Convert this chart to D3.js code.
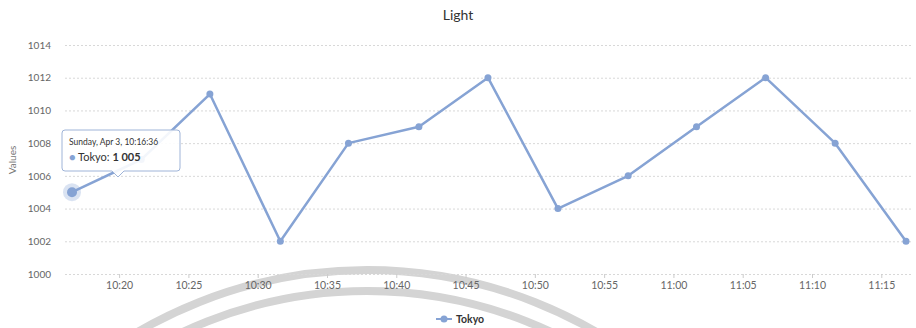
<!DOCTYPE html>
<html>
<head>
<meta charset="utf-8">
<script src="https://cdn.jsdelivr.net/npm/d3@7"></script>
<style>
  body { margin: 0; background: #fff; }
  svg { display: block; font-family: Lato, "Open Sans", sans-serif; }
</style>
</head>
<body>
<div id="root"></div>
<script>
// series: Tokyo light readings, Sunday Apr 3
const times = ["10:16:36", "10:21:36", "10:26:33", "10:31:38", "10:36:33", "10:41:38", "10:46:37",
               "10:51:40", "10:56:44", "11:01:40", "11:06:39", "11:11:40", "11:16:47"];
const values = [1005, 1007, 1011, 1002, 1008, 1009, 1012, 1004, 1006, 1009, 1012, 1008, 1002];
const yTicks = [1000, 1002, 1004, 1006, 1008, 1010, 1012, 1014];
const seriesName = "Tokyo";
const chartTitle = "Light";
const hovered = 0;

const width = 916;
const height = 328;
const color = "#86a3d4";

const parse = d3.timeParse("%Y-%m-%d %H:%M:%S");
const data = times.map((t, i) => ({ date: parse("2016-04-03 " + t), value: values[i] }));

const x = d3.scaleTime()
    .domain(d3.extent(data, d => d.date))
    .range([72, 906]);

const y = d3.scaleLinear()
    .domain([1000, 1014])
    .range([274, 45]);

const svg = d3.select("#root")
  .append("svg")
    .attr("width", width)
    .attr("height", height);

// faint background arcs
svg.append("g")
    .attr("fill", "none")
    .attr("stroke", "#d4d4d4")
    .attr("stroke-width", 8)
  .selectAll("circle")
  .data([455, 434])
  .join("circle")
    .attr("cx", 367)
    .attr("cy", 725)
    .attr("r", d => d);

// title
svg.append("text")
    .attr("x", 458)
    .attr("y", 20)
    .attr("text-anchor", "middle")
    .attr("fill", "#333")
    .style("font-size", "14px")
    .text(chartTitle);

// y grid + labels
const yAxis = svg.append("g")
    .attr("transform", "translate(65,0)")
    .call(d3.axisLeft(y).tickValues(yTicks).tickSize(-847).tickPadding(14).tickFormat(d3.format("d")));
yAxis.select(".domain").remove();
yAxis.selectAll(".tick line")
    .attr("stroke", "#d8d8d8")
    .attr("stroke-dasharray", "2,2");
yAxis.selectAll(".tick text")
    .attr("fill", "#666")
    .style("font-size", "10px")
    .style("font-family", "Lato, sans-serif");

svg.append("text")
    .attr("transform", "translate(16,160) rotate(-90)")
    .attr("text-anchor", "middle")
    .attr("fill", "#777")
    .style("font-size", "10px")
    .text("Values");

// x axis
const xAxis = svg.append("g")
    .attr("transform", "translate(0,274)")
    .call(d3.axisBottom(x).ticks(d3.timeMinute.every(5)).tickSize(4).tickPadding(4).tickFormat(d3.timeFormat("%H:%M")));
xAxis.select(".domain").remove();
xAxis.selectAll(".tick line").attr("stroke", "#ccc");
xAxis.selectAll(".tick text")
    .attr("fill", "#666")
    .style("font-size", "10.5px")
    .style("font-family", "Lato, sans-serif");

// series line
const line = d3.line()
    .x(d => x(d.date))
    .y(d => y(d.value));

svg.append("path")
    .datum(data)
    .attr("fill", "none")
    .attr("stroke", color)
    .attr("stroke-width", 2.5)
    .attr("stroke-linejoin", "round")
    .attr("d", line);

svg.append("g")
  .selectAll("circle")
  .data(data)
  .join("circle")
    .attr("cx", d => x(d.date))
    .attr("cy", d => y(d.value))
    .attr("r", 3.5)
    .attr("fill", color);

// hover halo
const hp = data[hovered];
svg.append("circle")
    .attr("cx", x(hp.date))
    .attr("cy", y(hp.value))
    .attr("r", 9)
    .attr("fill", color)
    .attr("fill-opacity", 0.3);
svg.append("circle")
    .attr("cx", x(hp.date))
    .attr("cy", y(hp.value))
    .attr("r", 5)
    .attr("fill", color);

// tooltip
const tip = svg.append("g").attr("transform", "translate(62,130)");
tip.append("path")
    .attr("d", "M3,0 H115 Q118,0 118,3 V38 Q118,41 115,41 H62 L56,47 L50,41 H3 Q0,41 0,38 V3 Q0,0 3,0 Z")
    .attr("fill", "#fff")
    .attr("fill-opacity", 0.9)
    .attr("stroke", "#9fb4d8")
    .attr("stroke-width", 1);
tip.append("text")
    .attr("x", 7)
    .attr("y", 15)
    .attr("fill", "#333")
    .style("font-size", "8.5px")
    .text(d3.timeFormat("%A, %b %-d, %H:%M:%S")(hp.date));
const t2 = tip.append("text")
    .attr("x", 7)
    .attr("y", 31)
    .attr("fill", "#333")
    .style("font-size", "11px");
t2.append("tspan").attr("fill", color).text("● ");
t2.append("tspan").text(seriesName + ": ");
t2.append("tspan").attr("font-weight", "bold").text(d3.format(",")(hp.value).replace(",", " "));

// legend
const legend = svg.append("g").attr("transform", "translate(436,319)");
legend.append("line")
    .attr("x1", 0).attr("x2", 16)
    .attr("stroke", color)
    .attr("stroke-width", 2);
legend.append("circle")
    .attr("cx", 8)
    .attr("r", 3.5)
    .attr("fill", color);
legend.append("text")
    .attr("x", 20)
    .attr("y", 4)
    .attr("fill", "#333")
    .attr("font-weight", "bold")
    .style("font-size", "10.5px")
    .text(seriesName);
</script>
</body>
</html>
